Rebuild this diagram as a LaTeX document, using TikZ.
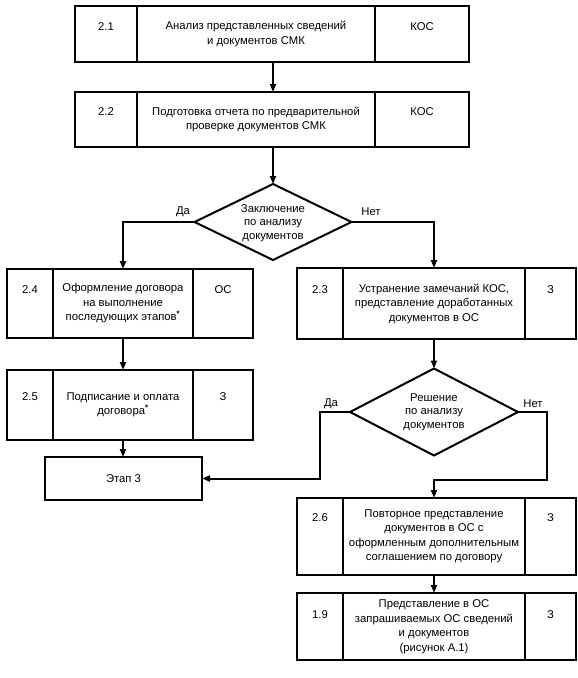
\documentclass[tikz,border=0pt]{standalone}
\usepackage{fontspec}
\setmainfont{Liberation Sans}
\usetikzlibrary{arrows.meta,shapes.geometric}
\begin{document}
\begin{tikzpicture}[x=1pt,y=-1pt,
  cell/.style={draw, line width=2pt, rectangle, inner sep=0pt, outer sep=0pt, anchor=north west},
  txt/.style={font=\fontsize{11.3}{14.5}\selectfont, align=center, inner sep=0pt},
  dtxt/.style={font=\fontsize{11.3}{13.5}\selectfont, align=center},
  dec/.style={draw, diamond, line width=2pt, inner sep=0pt, outer sep=0pt},
  flow/.style={line width=2pt, -{Triangle[length=8pt,width=6pt]}},
  lbl/.style={font=\fontsize{11.3}{13}\selectfont, inner sep=0pt}]
\useasboundingbox (0,0) rectangle (578,678);

% Box 2.1
\node[cell, minimum width=62, minimum height=56] (b21a) at (75,6) {};
\node[cell, minimum width=238, minimum height=56] (b21b) at (137,6) {};
\node[cell, minimum width=94, minimum height=56] (b21c) at (375,6) {};
\node[txt] (t21) at (256,34) {Анализ представленных сведений\\и документов СМК};
\node[txt] (n21) at (106,27) {2.1};
\node[txt] (r21) at (422,27) {КОС};

% Box 2.2
\node[cell, minimum width=62, minimum height=55] (b22a) at (75,92) {};
\node[cell, minimum width=238, minimum height=55] (b22b) at (137,92) {};
\node[cell, minimum width=94, minimum height=55] (b22c) at (375,92) {};
\node[txt] (t22) at (256,119.5) {Подготовка отчета по предварительной\\проверке документов СМК};
\node[txt] (n22) at (106,112) {2.2};
\node[txt] (r22) at (422,112) {КОС};

% Decision 1
\node[dec, minimum width=157, minimum height=76] (d1) at (273,222) {};
\node[dtxt] (dt1) at (273,223) {Заключение\\по анализу\\документов};

% Box 2.4
\node[cell, minimum width=46, minimum height=69] (b24a) at (7,269) {};
\node[cell, minimum width=140, minimum height=69] (b24b) at (53,269) {};
\node[cell, minimum width=60, minimum height=69] (b24c) at (193,269) {};
\node[txt] (t24) at (123,303.5) {Оформление договора\\на выполнение\\последующих этапов\textsuperscript{\textbf{*}}};
\node[txt] (n24) at (30,290) {2.4};
\node[txt] (r24) at (223,290) {ОС};

% Box 2.5
\node[cell, minimum width=46, minimum height=70] (b25a) at (7,370) {};
\node[cell, minimum width=140, minimum height=70] (b25b) at (53,370) {};
\node[cell, minimum width=60, minimum height=70] (b25c) at (193,370) {};
\node[txt] (t25) at (123,405) {Подписание и оплата\\договора\textsuperscript{\textbf{*}}};
\node[txt] (n25) at (30,397) {2.5};
\node[txt] (r25) at (223,397) {З};

% Stage 3
\node[cell, minimum width=157, minimum height=43] (e3) at (45,457) {};
\node[txt] (te3) at (123.5,478.5) {Этап 3};

% Box 2.3
\node[cell, minimum width=46, minimum height=71] (b23a) at (297,268) {};
\node[cell, minimum width=182, minimum height=71] (b23b) at (343,268) {};
\node[cell, minimum width=51, minimum height=71] (b23c) at (525,268) {};
\node[txt] (t23) at (434,303.5) {Устранение замечаний КОС,\\представление доработанных\\документов в ОС};
\node[txt] (n23) at (320,290) {2.3};
\node[txt] (r23) at (550.5,290) {З};

% Decision 2
\node[dec, minimum width=168, minimum height=87] (d2) at (434,412) {};
\node[dtxt] (dt2) at (434,412) {Решение\\по анализу\\документов};

% Box 2.6
\node[cell, minimum width=46, minimum height=77] (b26a) at (297,498) {};
\node[cell, minimum width=182, minimum height=77] (b26b) at (343,498) {};
\node[cell, minimum width=51, minimum height=77] (b26c) at (525,498) {};
\node[txt] (t26) at (434,536.5) {Повторное представление\\документов в ОС с\\оформленным дополнительным\\соглашением по договору};
\node[txt] (n26) at (320,518) {2.6};
\node[txt] (r26) at (550.5,518) {З};

% Box 1.9
\node[cell, minimum width=46, minimum height=67] (b19a) at (297,593) {};
\node[cell, minimum width=182, minimum height=67] (b19b) at (343,593) {};
\node[cell, minimum width=51, minimum height=67] (b19c) at (525,593) {};
\node[txt] (t19) at (434,626.5) {Представление в ОС\\запрашиваемых ОС сведений\\и документов\\(рисунок А.1)};
\node[txt] (n19) at (320,615) {1.9};
\node[txt] (r19) at (550.5,615) {З};

% Labels
\node[lbl] (l1) at (183,212) {Да};
\node[lbl] (l2) at (371,212) {Нет};
\node[lbl] (l3) at (331,404) {Да};
\node[lbl] (l4) at (533,404) {Нет};

% Jogs
\coordinate (dajog) at (320,478.5);
\coordinate (netjog) at (547,480);

% Connectors
\draw[flow] ([xshift=17pt]b21b.south) -- ([xshift=17pt]b22b.north);
\draw[flow] ([xshift=17pt]b22b.south) -- (d1.north);
\draw[flow] (d1.west) -| (b24b.north);
\draw[flow] (d1.east) -| (b23b.north);
\draw[flow] (b24b.south) -- (b25b.north);
\draw[flow] (b25b.south) -- (e3.north -| b25b.south);
\draw[flow] (b23b.south) -- (d2.north);
\draw[flow] (d2.west) -| (dajog) -- (e3.east);
\draw[flow] (d2.east) -| (netjog) -| (b26b.north);
\draw[flow] (b26b.south) -- (b19b.north);
\end{tikzpicture}
\end{document}
